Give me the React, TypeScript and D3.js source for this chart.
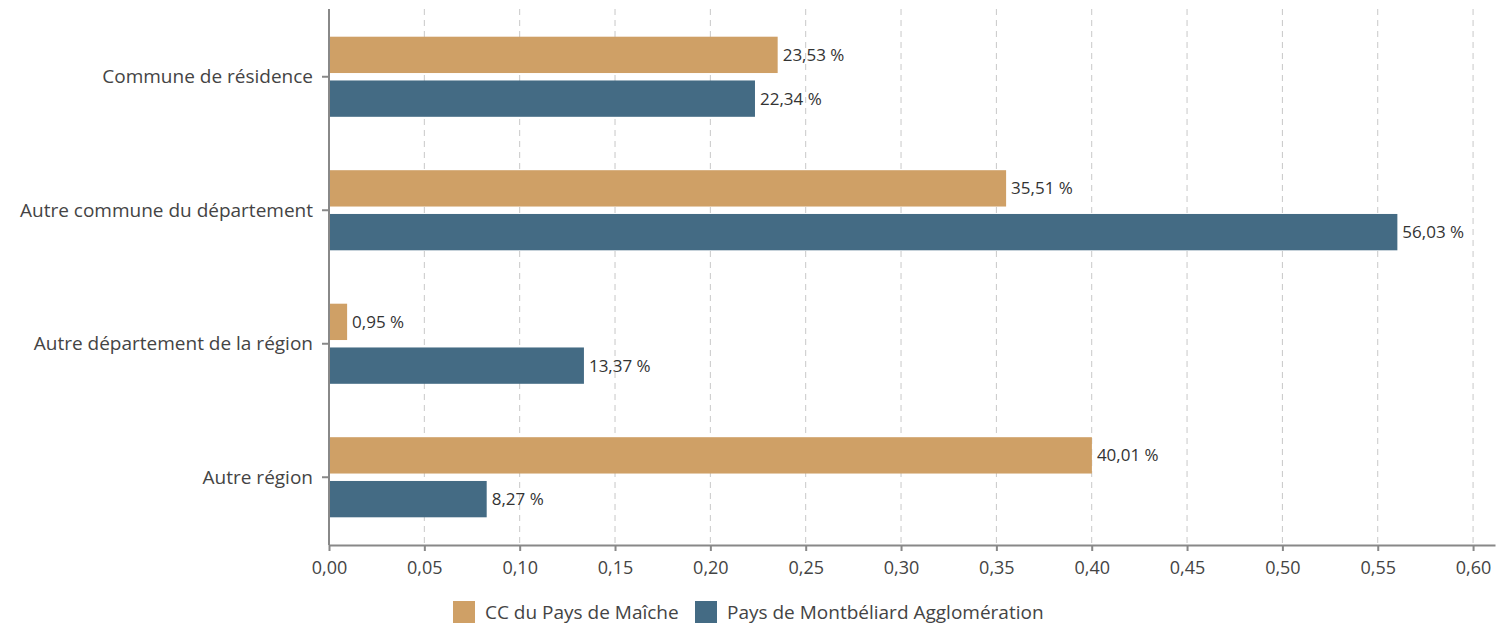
import React, { useEffect, useRef } from "react";
import * as d3 from "d3";

const categories = [
  "Commune de résidence",
  "Autre commune du département",
  "Autre département de la région",
  "Autre région",
];
const seriesNames = ["CC du Pays de Maîche", "Pays de Montbéliard Agglomération"];
const maicheValues = [0.2353, 0.3551, 0.0095, 0.4001];
const montbeliardValues = [0.2234, 0.5603, 0.1337, 0.0827];
const xTicks = [0, 0.05, 0.1, 0.15, 0.2, 0.25, 0.3, 0.35, 0.4, 0.45, 0.5, 0.55, 0.6];

const colors = ["#CFA066", "#446B84"];
const width = 1497;
const height = 626;
const font = "'Open Sans', sans-serif";

export default function App() {
  const ref = useRef<SVGSVGElement>(null);

  useEffect(() => {
    const svg = d3.select(ref.current);
    svg.selectAll("*").remove();

    const left = 329;
    const right = 1495;
    const top = 9;
    const bottom = 545;

    const x = d3.scaleLinear().domain([0, 0.6115]).range([left, right]);
    const y = d3.scaleBand().domain(categories).range([10, 544]).paddingInner(0).paddingOuter(0);
    const inner = d3
      .scaleBand()
      .domain(seriesNames)
      .range([y.bandwidth() * 0.2, y.bandwidth() * 0.8])
      .paddingInner(0.17);

    // Grid lines
    svg
      .append("g")
      .selectAll("line")
      .data(xTicks.slice(1))
      .join("line")
      .attr("x1", (d) => x(d))
      .attr("x2", (d) => x(d))
      .attr("y1", top)
      .attr("y2", bottom)
      .attr("stroke", "#c8c8c8")
      .attr("stroke-dasharray", "6,5");

    // Bars
    const rows = categories.map((c, i) => ({
      cat: c,
      vals: [maicheValues[i], montbeliardValues[i]],
    }));

    const groups = svg
      .append("g")
      .selectAll("g")
      .data(rows)
      .join("g")
      .attr("transform", (d) => `translate(0,${y(d.cat)})`);

    groups
      .selectAll("rect")
      .data((d) => d.vals.map((v, j) => ({ v, s: seriesNames[j], j })))
      .join("rect")
      .attr("x", x(0))
      .attr("y", (d) => inner(d.s)!)
      .attr("width", (d) => x(d.v) - x(0))
      .attr("height", inner.bandwidth())
      .attr("fill", (d) => colors[d.j]);

    groups
      .selectAll("text")
      .data((d) => d.vals.map((v, j) => ({ v, s: seriesNames[j], j })))
      .join("text")
      .attr("x", (d) => x(d.v) + 5)
      .attr("y", (d) => inner(d.s)! + inner.bandwidth() / 2)
      .attr("dy", "0.35em")
      .attr("font-family", font)
      .attr("font-size", 17)
      .attr("fill", "#333")
      .text((d) => d3.format(".2f")(d.v * 100).replace(".", ",") + " %");

    // X axis
    const xAxis = svg
      .append("g")
      .attr("transform", `translate(0,${bottom})`)
      .call(
        d3
          .axisBottom(x)
          .tickValues(xTicks)
          .tickSize(6)
          .tickSizeOuter(0)
          .tickFormat((d) => d3.format(".2f")(d as number).replace(".", ","))
      );
    xAxis.select(".domain").attr("stroke", "#888").attr("stroke-width", 2);
    xAxis.selectAll(".tick line").attr("stroke", "#888").attr("stroke-width", 2);
    xAxis
      .selectAll(".tick text")
      .attr("font-family", font)
      .attr("font-size", 18)
      .attr("fill", "#444")
      .attr("dy", "1.1em");

    // Y axis
    svg
      .append("line")
      .attr("x1", left)
      .attr("x2", left)
      .attr("y1", top)
      .attr("y2", bottom)
      .attr("stroke", "#888")
      .attr("stroke-width", 2);

    const yTicks = svg.append("g").selectAll("g").data(categories).join("g");
    yTicks
      .append("line")
      .attr("x1", left - 7)
      .attr("x2", left)
      .attr("y1", (d) => y(d)! + y.bandwidth() / 2)
      .attr("y2", (d) => y(d)! + y.bandwidth() / 2)
      .attr("stroke", "#888")
      .attr("stroke-width", 2);
    yTicks
      .append("text")
      .attr("x", left - 16)
      .attr("y", (d) => y(d)! + y.bandwidth() / 2)
      .attr("dy", "0.35em")
      .attr("text-anchor", "end")
      .attr("font-family", font)
      .attr("font-size", 19)
      .attr("fill", "#444")
      .text((d) => d);

    // Legend
    const legendX = [453, 695];
    const legend = svg
      .append("g")
      .selectAll("g")
      .data(seriesNames)
      .join("g")
      .attr("transform", (d, i) => `translate(${legendX[i]},601)`);
    legend
      .append("rect")
      .attr("width", 22)
      .attr("height", 22)
      .attr("fill", (d, i) => colors[i]);
    legend
      .append("text")
      .attr("x", 32)
      .attr("y", 11)
      .attr("dy", "0.35em")
      .attr("font-family", font)
      .attr("font-size", 19)
      .attr("fill", "#444")
      .text((d) => d);
  }, []);

  return (
    <svg
      ref={ref}
      width={width}
      height={height}
      style={{ position: "absolute", left: 0, top: 0, background: "#fff" }}
    />
  );
}
